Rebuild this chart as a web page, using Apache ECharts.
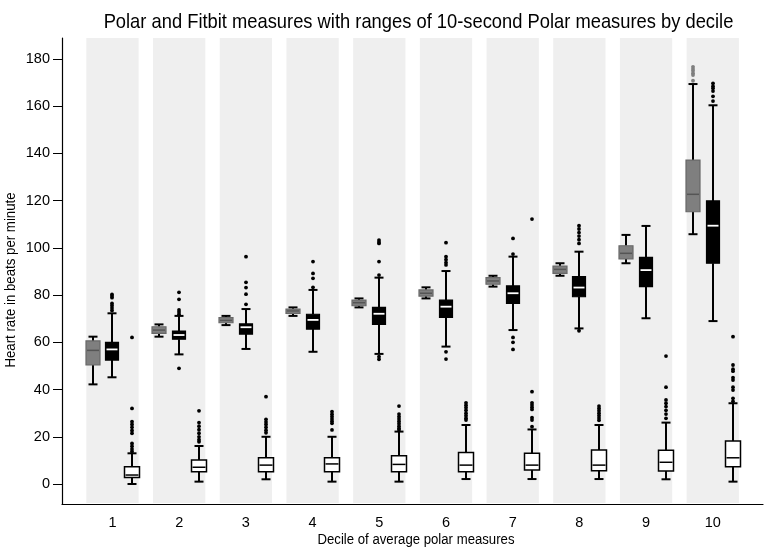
<!DOCTYPE html>
<html><head><meta charset="utf-8">
<script src="https://cdn.jsdelivr.net/npm/echarts@6/dist/echarts.min.js"></script>
<style>html,body{margin:0;padding:0;background:#fff}#c{width:770px;height:558px}</style>
</head><body><div id="c"></div>
<script>
// ---- data ----
const deciles = [1, 2, 3, 4, 5, 6, 7, 8, 9, 10];
const yTicks = [0, 20, 40, 60, 80, 100, 120, 140, 160, 180];
// [min whisker, Q1, median, Q3, max whisker]
const polarBoxes = [
  [42.2, 50.4, 56.6, 60.6, 62.4],
  [62.4, 63.8, 65.2, 66.6, 67.6],
  [67.3, 68.3, 69.3, 70.5, 71.2],
  [71.2, 72.3, 73.3, 74.1, 74.8],
  [74.8, 75.5, 76.8, 77.9, 78.6],
  [78.6, 79.6, 80.8, 82.2, 83.3],
  [83.6, 84.6, 86.0, 87.4, 88.2],
  [88.2, 89.2, 90.9, 92.3, 93.5],
  [93.5, 95.3, 97.7, 100.9, 105.5],
  [105.8, 115.3, 122.7, 137.2, 169.4]
];
const fitbitBoxes = [
  [45.2, 52.5, 57.0, 60.0, 72.3],
  [54.9, 61.3, 63.1, 64.8, 71.2],
  [57.2, 63.5, 66.4, 67.8, 74.1],
  [56.0, 65.6, 69.5, 71.9, 82.2],
  [55.1, 67.6, 72.1, 74.8, 87.4],
  [58.2, 70.6, 75.1, 77.9, 90.2],
  [65.2, 76.5, 80.8, 83.9, 96.3],
  [65.9, 79.3, 83.2, 87.8, 98.4],
  [70.2, 83.6, 90.6, 96.0, 109.3],
  [69.0, 93.5, 109.4, 119.9, 160.4]
];
const rangeBoxes = [
  [0.0, 2.8, 3.8, 7.3, 13.0],
  [1.0, 5.2, 7.1, 10.2, 16.1],
  [2.0, 5.2, 8.0, 11.1, 20.0],
  [1.0, 5.2, 8.5, 11.1, 20.0],
  [1.0, 5.2, 8.3, 12.0, 22.2],
  [2.1, 5.2, 8.0, 13.3, 25.0],
  [2.1, 5.9, 8.0, 13.0, 23.1],
  [2.1, 5.6, 8.0, 14.4, 25.0],
  [2.0, 5.5, 9.2, 14.3, 26.0],
  [1.0, 7.3, 11.1, 18.2, 34.2]
];
const polarOutliers = [
  [], [], [], [], [], [], [], [], [],
  [176.7, 175.8, 175.0, 174.0, 173.2, 170.8]
];
const fitbitOutliers = [
  [80.3, 79.6, 78.9, 76.5, 75.5, 74.5, 73.5],
  [81.2, 78.2, 73.7, 72.8, 71.9, 49.0],
  [96.3, 85.4, 83.2, 80.4, 76.1],
  [94.2, 89.2, 87.1, 83.3],
  [103.3, 102.5, 101.9, 94.2, 88.5, 53.9, 52.8],
  [102.2, 96.3, 95.0, 93.8, 92.8, 56.0, 52.9],
  [104.0, 97.4, 62.1, 60.0, 57.0],
  [109.4, 108.0, 106.5, 105.0, 103.5, 101.9, 64.9],
  [],
  [169.7, 168.5, 167.6, 166.4, 164.2, 162.2]
];
const rangeOutliers = [
  [62.1, 32.0, 26.4, 25.2, 24.0, 22.7, 21.5, 17.2, 16.0, 14.8, 13.8],
  [31.0, 26.0, 24.5, 23.0, 21.5, 20.0, 18.8, 17.9],
  [37.0, 27.4, 26.3, 25.2, 24.0, 22.8, 21.7],
  [30.6, 29.5, 28.5, 27.5, 26.6, 25.7, 22.9],
  [33.0, 29.6, 28.5, 27.5, 26.5, 25.5, 24.5, 23.5, 22.9],
  [34.4, 33.4, 32.3, 31.2, 30.0, 28.9, 27.9, 27.1],
  [112.2, 39.1, 34.4, 33.5, 32.5, 31.6, 28.1, 27.1, 24.3],
  [33.0, 32.0, 31.0, 30.0, 29.0, 28.0, 27.0],
  [54.2, 41.0, 35.6, 34.2, 32.8, 31.2, 29.6, 27.8],
  [62.4, 50.4, 48.6, 47.8, 45.0, 44.0, 41.0, 39.8, 36.3, 35.0]
];
const titleText = 'Polar and Fitbit measures with ranges of 10-second Polar measures by decile';
const yName = 'Heart rate in beats per minute';
const xName = 'Decile of average polar measures';

// ---- build ----
const FONT = "'Liberation Sans', Arial, Helvetica, sans-serif";
const boxRows = boxes => boxes.map((b, i) => [deciles[i]].concat(b));
const outRows = outs => {
  const r = [];
  outs.forEach((arr, i) => arr.forEach(v => r.push([deciles[i], v])));
  return r;
};

function boxRenderer(st) {
  return function (params, api) {
    const x = api.value(0);
    const unit = api.size([1, 0])[0];
    const pMin = api.coord([x, api.value(1)]);
    const pQ1 = api.coord([x, api.value(2)]);
    const pMed = api.coord([x, api.value(3)]);
    const pQ3 = api.coord([x, api.value(4)]);
    const pMax = api.coord([x, api.value(5)]);
    const cx = Math.round(pMin[0] + st.offset * unit);
    const hw = st.boxWidth / 2, cw = st.capWidth / 2;
    const wStyle = { stroke: '#000', lineWidth: 2 };
    return {
      type: 'group',
      children: [
        { type: 'line', shape: { x1: cx, y1: pMax[1], x2: cx, y2: pQ3[1] }, style: wStyle },
        { type: 'line', shape: { x1: cx, y1: pQ1[1], x2: cx, y2: pMin[1] }, style: wStyle },
        { type: 'line', shape: { x1: cx - cw, y1: pMax[1], x2: cx + cw, y2: pMax[1] }, style: wStyle },
        { type: 'line', shape: { x1: cx - cw, y1: pMin[1], x2: cx + cw, y2: pMin[1] }, style: wStyle },
        { type: 'rect', shape: { x: cx - hw, y: pQ3[1], width: st.boxWidth, height: pQ1[1] - pQ3[1] },
          style: { fill: st.fill, stroke: st.stroke, lineWidth: st.borderWidth } },
        { type: 'line', shape: { x1: cx - hw + 1, y1: pMed[1], x2: cx + hw - 1, y2: pMed[1] },
          style: { stroke: st.median, lineWidth: st.medianWidth } }
      ]
    };
  };
}
function dotRenderer(st) {
  return function (params, api) {
    const unit = api.size([1, 0])[0];
    const p = api.coord([api.value(0), api.value(1)]);
    return { type: 'circle', shape: { cx: Math.round(p[0] + st.offset * unit), cy: p[1], r: 1.9 },
      style: { fill: st.color } };
  };
}
const OFF = 0.297;
const styles = {
  polar: { offset: -OFF, boxWidth: 14, capWidth: 9, fill: '#7f7f7f', stroke: '#686868', borderWidth: 1.2, median: '#555555', medianWidth: 1.5, color: '#7f7f7f' },
  fitbit: { offset: 0, boxWidth: 13, capWidth: 9, fill: '#000000', stroke: '#000000', borderWidth: 1.2, median: '#ffffff', medianWidth: 1.8, color: '#000000' },
  range: { offset: OFF, boxWidth: 15, capWidth: 9, fill: '#ffffff', stroke: '#000000', borderWidth: 1.5, median: '#000000', medianWidth: 1.5, color: '#000000' }
};

const option = {
  animation: false,
  backgroundColor: '#ffffff',
  grid: { left: 62, right: 7, top: 38, bottom: 54, containLabel: false },
  xAxis: {
    type: 'value', min: 0.243, max: 10.753,
    splitLine: { show: false },
    axisLine: { show: true, onZero: false, lineStyle: { color: '#000', width: 1.2 } },
    axisTick: { show: false },
    axisLabel: { customValues: deciles, color: '#000', fontFamily: FONT, fontSize: 14.5, margin: 11 }
  },
  yAxis: {
    type: 'value', min: -8.47, max: 188.9,
    splitLine: { show: false },
    axisLine: { show: true, onZero: false, lineStyle: { color: '#000', width: 1.2 } },
    axisTick: { show: true, customValues: yTicks, length: 9, lineStyle: { color: '#000', width: 1 } },
    axisLabel: { customValues: yTicks, color: '#000', fontFamily: FONT, fontSize: 14.5, margin: 12 }
  },
  graphic: [
    { type: 'text', x: 418.5, y: 22, scaleX: 0.873,
      style: { text: titleText, fill: '#000', font: '21px ' + FONT, align: 'center', verticalAlign: 'middle' } },
    { type: 'text', x: 416, y: 540, scaleX: 0.85,
      style: { text: xName, fill: '#000', font: '15.5px ' + FONT, align: 'center', verticalAlign: 'middle' } },
    { type: 'text', x: 11, y: 280, rotation: Math.PI / 2, scaleX: 0.883,
      style: { text: yName, fill: '#000', font: '15px ' + FONT, align: 'center', verticalAlign: 'middle' } }
  ],
  series: [
    {
      type: 'custom', name: 'bands', z: 0, silent: true, clip: false,
      data: deciles.map(d => [d]),
      encode: { x: 0 },
      renderItem: function (params, api) {
        const a = api.coord([api.value(0) - 0.392, 0]);
        const b = api.coord([api.value(0) + 0.392, 0]);
        const cs = params.coordSys;
        return { type: 'rect', shape: { x: a[0], y: cs.y, width: b[0] - a[0], height: cs.height - 1 },
          style: { fill: '#efefef' } };
      }
    },
    { type: 'custom', name: 'Polar', z: 2, clip: false, data: boxRows(polarBoxes), encode: { x: 0, y: [1, 2, 3, 4, 5] }, renderItem: boxRenderer(styles.polar) },
    { type: 'custom', name: 'Fitbit', z: 2, clip: false, data: boxRows(fitbitBoxes), encode: { x: 0, y: [1, 2, 3, 4, 5] }, renderItem: boxRenderer(styles.fitbit) },
    { type: 'custom', name: 'Polar 10-second range', z: 2, clip: false, data: boxRows(rangeBoxes), encode: { x: 0, y: [1, 2, 3, 4, 5] }, renderItem: boxRenderer(styles.range) },
    { type: 'custom', name: 'Polar outliers', z: 3, clip: false, data: outRows(polarOutliers), encode: { x: 0, y: 1 }, renderItem: dotRenderer(styles.polar) },
    { type: 'custom', name: 'Fitbit outliers', z: 3, clip: false, data: outRows(fitbitOutliers), encode: { x: 0, y: 1 }, renderItem: dotRenderer(styles.fitbit) },
    { type: 'custom', name: 'Range outliers', z: 3, clip: false, data: outRows(rangeOutliers), encode: { x: 0, y: 1 }, renderItem: dotRenderer(styles.range) }
  ]
};
const chart = echarts.init(document.getElementById('c'), null, { renderer: 'canvas' });
chart.setOption(option);
</script>
</body></html>
